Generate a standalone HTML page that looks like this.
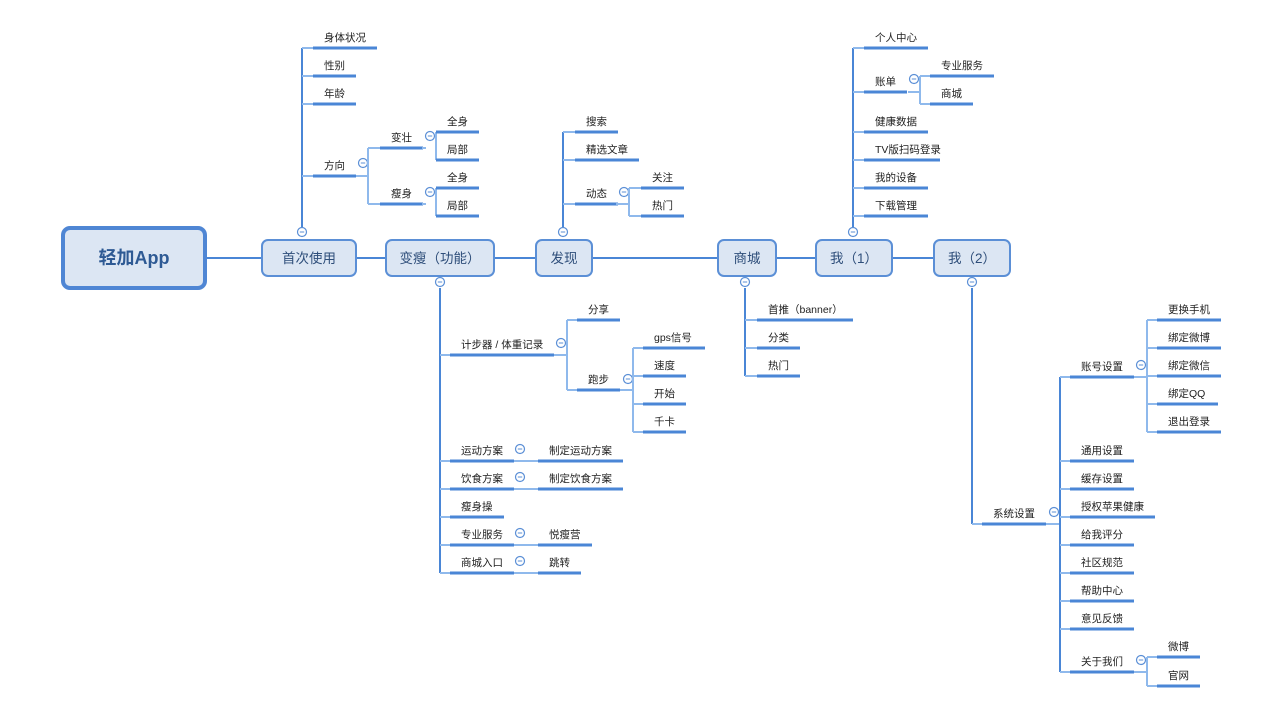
<!DOCTYPE html>
<html><head><meta charset="utf-8"><style>
html,body{margin:0;padding:0;background:#fff;width:1280px;height:720px;overflow:hidden}
svg text{font-family:"Liberation Sans","Noto Sans CJK SC",sans-serif}
</style></head><body>
<svg id="s" width="1280" height="720" xmlns="http://www.w3.org/2000/svg"></svg>
<script>
var s=document.getElementById('s'),out='';
var LC='#8fb9ec',DC='#4a86d6';
function tw(t){var w=0;for(var c of t){w+= /[\x00-\x7f]/.test(c)?(c==' '?3:6):10.5;}return w;}
function V(x,a,b,c){out+='<line x1="'+x+'" y1="'+a+'" x2="'+x+'" y2="'+b+'" stroke="'+(c||LC)+'" stroke-width="2"/>';}
function H(a,b,y,c){out+='<line x1="'+a+'" y1="'+y+'" x2="'+b+'" y2="'+y+'" stroke="'+(c||LC)+'" stroke-width="2"/>';}
function U(xs,y,t,w){w=w||Math.round(tw(t)+22);out+='<line x1="'+xs+'" y1="'+y+'" x2="'+(xs+w)+'" y2="'+y+'" stroke="'+DC+'" stroke-width="3"/>';out+='<text x="'+(xs+11)+'" y="'+(y-7)+'" font-size="10.5" fill="#222">'+t+'</text>';return xs+w;}
function C(x,y){out+='<circle cx="'+x+'" cy="'+y+'" r="4.5" fill="#fff" stroke="#5b8fd6" stroke-width="1.2"/><line x1="'+(x-2.2)+'" y1="'+y+'" x2="'+(x+2.2)+'" y2="'+y+'" stroke="#5b8fd6" stroke-width="1"/>';}
function N(x1,x2,t){out+='<rect x="'+x1+'" y="240" width="'+(x2-x1)+'" height="36" rx="6" fill="#dce6f3" stroke="#5b8fd6" stroke-width="2"/><text x="'+((x1+x2)/2)+'" y="263" font-size="13.5" text-anchor="middle" fill="#2e4e7a">'+t+'</text>';}
// branch: vertical x from parent, items with stub
function item(bx,y,t,xs,w){H(bx,xs,y);return U(xs,y,t,w);}
// main line
H(206,934,258,DC);
// 首次使用
V(302,48,228,DC);
item(302,48,'身体状况',313);item(302,76,'性别',313);item(302,104,'年龄',313);
var e=item(302,176,'方向',313);C(363,163);H(e,368,176);
V(368,148,204);item(368,148,'变壮',380);item(368,204,'瘦身',380);H(422,426,148);H(422,426,204);
C(430,136);C(430,192);
V(436,132,160);item(436,132,'全身',436);item(436,160,'局部',436);
V(436,188,216);item(436,188,'全身',436);item(436,216,'局部',436);
C(302,232);
// 变瘦
V(440,288,573,DC);C(440,282);
e=item(440,355,'计步器 / 体重记录',450,104);C(561,343);H(554,567,355);
V(567,320,390);item(567,320,'分享',577);item(567,390,'跑步',577);C(628,379);H(620,633,390);
V(633,348,432);item(633,348,'gps信号',643,62);item(633,376,'速度',643);item(633,404,'开始',643);item(633,432,'千卡',643);
item(440,461,'运动方案',450);C(520,449);H(514,538,461);U(538,461,'制定运动方案');
item(440,489,'饮食方案',450);C(520,477);H(514,538,489);U(538,489,'制定饮食方案');
item(440,517,'瘦身操',450);
item(440,545,'专业服务',450);C(520,533);H(514,538,545);U(538,545,'悦瘦营');
item(440,573,'商城入口',450);C(520,561);H(514,538,573);U(538,573,'跳转');
// 发现
V(563,132,228,DC);C(563,232);
item(563,132,'搜索',575);item(563,160,'精选文章',575);item(563,204,'动态',575);C(624,192);H(616,629,204);
V(629,188,216);item(629,188,'关注',641);item(629,216,'热门',641);
// 商城
V(745,288,376,DC);C(745,282);
item(745,320,'首推（banner）',757,96);item(745,348,'分类',757);item(745,376,'热门',757);
// 我1
V(853,48,228,DC);C(853,232);
item(853,48,'个人中心',864);item(853,92,'账单',864);C(914,79);H(908,920,92);
V(920,76,104);item(920,76,'专业服务',930);item(920,104,'商城',930);
item(853,132,'健康数据',864);item(853,160,'TV版扫码登录',864,76);item(853,188,'我的设备',864);item(853,216,'下载管理',864);
// 我2
V(972,288,524,DC);C(972,282);
item(972,524,'系统设置',982);C(1054,512);H(1046,1060,524);
V(1060,377,672,DC);
item(1060,377,'账号设置',1070);C(1141,365);H(1134,1147,377);
V(1147,320,432);
['更换手机','绑定微博','绑定微信','绑定QQ','退出登录'].forEach(function(t,i){item(1147,320+28*i,t,1157,t=='绑定QQ'?61:0||undefined);});
['通用设置','缓存设置','授权苹果健康','给我评分','社区规范','帮助中心','意见反馈'].forEach(function(t,i){item(1060,461+28*i,t,1070);});
item(1060,672,'关于我们',1070);C(1141,660);H(1134,1147,672);
V(1147,657,686);item(1147,657,'微博',1157);item(1147,686,'官网',1157);
// nodes
N(262,356,'首次使用');N(386,494,'变瘦（功能）');N(536,592,'发现');N(718,776,'商城');N(816,892,'我（1）');N(934,1010,'我（2）');
out+='<rect x="63" y="228" width="142" height="60" rx="7" fill="#dce6f3" stroke="#4f86d4" stroke-width="4"/><text x="134" y="264" font-size="18" font-weight="bold" text-anchor="middle" fill="#2e5a94">轻加App</text>';
s.innerHTML=out;
</script>
</body></html>
